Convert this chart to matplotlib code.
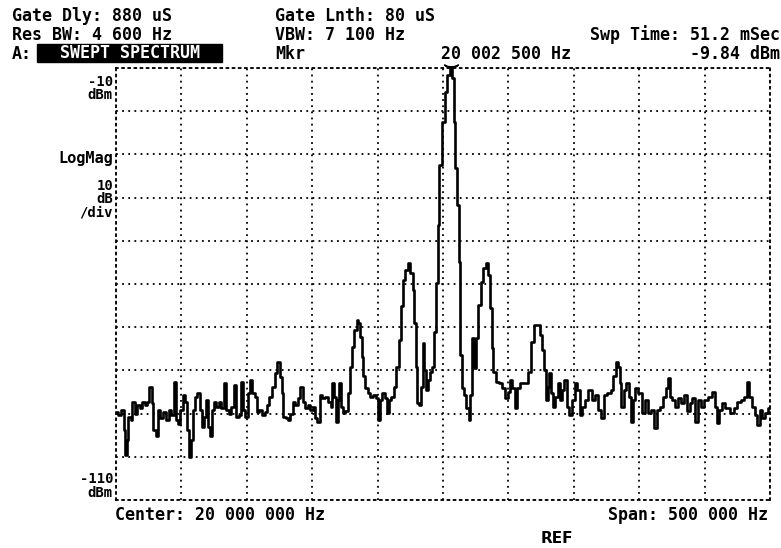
import matplotlib
matplotlib.use('Agg')
from matplotlib import pyplot as plt
from matplotlib.patches import Rectangle

# trace: offset from the 20 MHz centre (kHz), level (dBm)
freq_khz = [
    -249.5, -246.9, -244.9, -243.4, -242.4, -241.1, -239.8, -238.0, -236.8, -234.7,
    -232.9, -230.4, -229.1, -227.1, -225.3, -223.5, -222.2, -220.7, -218.9, -217.1,
    -215.1, -212.5, -210.8, -208.7, -206.7, -204.9, -203.6, -201.6, -199.8, -198.0,
    -196.5, -195.2, -193.4, -191.9, -190.4, -188.8, -187.1, -185.2, -183.7, -182.0,
    -180.2, -178.7, -177.6, -176.1, -174.3, -172.5, -170.5, -168.4, -166.7, -164.9,
    -162.8, -160.8, -159.0, -157.2, -155.2, -153.9, -152.1, -150.1, -148.3, -146.8,
    -145.0, -143.2, -141.2, -139.4, -137.4, -135.3, -133.6, -131.7, -129.7, -127.9,
    -125.9, -124.1, -122.6, -121.3, -119.5, -117.5, -115.7, -113.9, -111.9, -109.8,
    -108.1, -106.3, -104.2, -102.4, -100.4, -98.6, -96.6, -95.3, -93.5, -91.5,
    -88.9, -86.4,
    -85.6, -83.8, -82.6, -81.3, -80.0, -78.7, -77.5, -75.7, -73.6, -71.6,
    -70.3, -68.6, -66.8, -65.3, -64.0, -62.7, -61.4, -60.2, -58.4, -56.4,
    -54.5, -52.5, -50.7, -49.2, -47.7, -45.6, -43.8, -42.0, -40.5, -38.5,
    -36.5, -34.7, -32.9, -31.6, -29.8, -27.8, -25.8, -23.9, -22.7, -21.4,
    -20.4, -19.1, -17.6, -16.3, -15.0, -13.8, -12.5, -10.7, -8.7, -7.4,
    -6.1, -4.8, -3.6, -1.8, 0.3, 2.3, 4.3, 5.8, 7.4, 8.7,
    9.9, 11.7, 12.8, 13.5, 15.1, 17.0, 18.9, 20.1, 21.6, 23.2,
    24.5, 26.2, 27.8, 29.6, 31.6, 33.9, 35.4, 36.7, 38.0, 39.2,
    41.5, 44.1, 46.6, 48.7, 50.2, 51.8, 53.8, 55.8, 57.6, 60.2,
    63.5, 66.0, 68.6, 70.6,
    72.9, 74.9, 76.7, 78.0, 79.3, 80.8, 81.8, 83.3, 85.1, 86.9,
    88.5, 90.2, 92.0, 93.5, 95.4, 97.6, 99.7, 101.5, 103.5, 105.3,
    107.3, 109.9, 112.4, 114.9, 117.5, 120.0, 122.3, 124.4, 126.9, 129.4,
    131.3, 132.8, 134.3, 135.6, 137.1, 138.9, 140.9, 142.9, 144.3, 146.0,
    148.1, 150.6, 153.2, 155.2, 157.5, 160.1, 162.4, 164.4, 166.7, 169.3,
    171.6, 172.6, 174.1, 176.1, 178.7, 181.2, 183.3, 185.3, 187.6, 189.6,
    191.7, 194.0, 196.0, 198.5, 201.1, 204.1, 206.7, 208.5, 209.7, 211.8,
    214.3, 217.4, 220.7, 223.8, 226.5, 229.1, 231.4, 233.4, 235.2, 237.2,
    239.3, 241.1, 242.9, 244.9, 247.0, 249.5,
]
level_dbm = [
    -89.6, -90.3, -89.2, -93.8, -99.6, -96.1, -90.7, -91.5, -87.2, -90.0,
    -88.0, -88.8, -87.2, -88.0, -87.2, -83.8, -87.6, -93.8, -95.3, -89.2,
    -91.1, -89.6, -91.5, -89.2, -90.3, -82.6, -91.5, -92.3, -89.2, -85.7,
    -87.2, -93.8, -100.0, -96.1, -89.2, -86.1, -85.3, -89.2, -93.0, -90.7,
    -86.9, -93.0, -95.3, -89.2, -87.2, -88.4, -87.2, -88.8, -83.0, -89.2,
    -90.0, -88.4, -83.4, -90.7, -90.3, -82.6, -89.2, -90.7, -85.3, -82.2,
    -85.3, -86.1, -89.6, -89.2, -90.3, -89.6, -88.0, -86.1, -83.8, -80.7,
    -78.0, -81.5, -85.3, -90.7, -91.1, -91.5, -90.0, -87.2, -88.0, -86.5,
    -83.8, -87.2, -88.8, -88.0, -89.2, -88.4, -91.1, -91.9, -85.7, -86.5,
    -86.1, -87.2,
    -88.4, -83.0, -86.1, -91.9, -86.9, -83.0, -88.4, -89.9, -89.5, -85.3,
    -79.1, -74.5, -70.6, -68.3, -69.1, -72.2, -76.8, -81.4, -84.1, -85.3,
    -86.1, -85.7, -86.5, -91.5, -86.9, -85.3, -86.5, -89.9, -86.9, -86.1,
    -83.8, -79.1, -73.0, -65.2, -59.1, -56.8, -55.2, -57.5, -61.4, -69.1,
    -79.1, -87.6, -88.0, -83.8, -73.7, -79.9, -84.5, -82.2, -80.3, -79.1,
    -71.0, -59.8, -46.3, -32.5, -22.4, -15.5, -11.6, -9.84, -12.4, -22.4,
    -33.2, -41.7, -54.8, -76.4, -84.1, -85.7, -88.8, -91.5, -85.7, -72.6,
    -79.5, -72.6, -64.9, -59.5, -56.4, -55.2, -57.9, -65.6, -74.9, -80.3,
    -82.6, -83.0, -84.1, -86.5, -84.9, -82.2, -84.1, -88.8, -84.1, -83.0,
    -83.0, -80.3, -73.4, -69.5,
    -69.5, -71.8, -75.3, -79.9, -86.8, -83.8, -80.7, -85.3, -88.4, -86.1,
    -83.0, -86.8, -84.5, -82.2, -88.4, -90.3, -86.8, -83.0, -84.5, -90.3,
    -88.4, -86.8, -84.5, -86.8, -85.7, -89.2, -91.1, -85.7, -85.3, -84.5,
    -81.4, -78.0, -79.1, -83.0, -88.4, -84.5, -83.0, -86.1, -91.9, -86.8,
    -84.1, -85.3, -89.9, -86.8, -89.9, -89.2, -93.4, -89.2, -88.4, -86.1,
    -84.1, -81.8, -86.1, -86.8, -88.4, -86.5, -87.6, -85.7, -89.5, -87.6,
    -86.5, -91.9, -86.8, -88.4, -86.8, -86.1, -84.9, -88.4, -92.2, -89.2,
    -87.6, -88.8, -89.9, -88.8, -87.2, -86.8, -86.1, -82.6, -86.1, -88.4,
    -90.3, -92.6, -89.2, -91.1, -89.9, -88.8,
]

ref_top = -10       # dBm
ref_bottom = -110   # dBm
span_khz = 500
mkr_dbm = -9.84

W, H = 781, 548
fig = plt.figure(figsize=(W / 100, H / 100), dpi=100)
ax = fig.add_axes([116 / W, 1 - 500 / H, 654 / W, 432 / H])

ax.plot(freq_khz, level_dbm, color='black', linewidth=1.9, drawstyle='steps-mid',
        clip_on=False)

# marker sits on the highest point of the trace
i_pk = level_dbm.index(max(level_dbm))
ax.plot(freq_khz[i_pk], mkr_dbm + 0.3, marker=r'$\smile$', color='black',
        markersize=10, clip_on=False)

ax.set_xlim(-span_khz / 2, span_khz / 2)
ax.set_ylim(ref_bottom, ref_top)
ax.set_xticks(range(-250, 251, 50))
ax.set_yticks(range(ref_bottom, ref_top + 1, 10))
dots = (0, (1, 2.4))
ax.grid(True, color='black', linestyle=dots, linewidth=1.3)
ax.tick_params(length=0, labelbottom=False, labelleft=False)
for sp in ax.spines.values():
    sp.set_linestyle(dots)
    sp.set_linewidth(1.3)


def txt(x, y, s, ha='left', size=12, color='black', family='DejaVu Sans Mono'):
    fig.text(x / W, 1 - y / H, s, ha=ha, va='baseline', fontsize=size,
             fontweight='bold', color=color, family=family)


# header
txt(12, 21, 'Gate Dly: 880 uS')
txt(275, 21, 'Gate Lnth: 80 uS')
txt(12, 40, 'Res BW: 4 600 Hz')
txt(275, 40, 'VBW: 7 100 Hz')
txt(780, 40, 'Swp Time: 51.2 mSec', ha='right')
txt(12, 59, 'A:')
fig.patches.append(Rectangle((37 / W, 1 - 62 / H), 185 / W, 18 / H,
                             transform=fig.transFigure, color='black'))
txt(130, 58, 'SWEPT SPECTRUM', ha='center', color='white')
txt(275, 59, 'Mkr')
txt(506, 59, '20 002 500 Hz', ha='center')
txt(780, 59, f'{mkr_dbm:.2f} dBm', ha='right')

# left scale labels
txt(113, 86, f'{ref_top}', ha='right', size=10)
txt(113, 99, 'dBm', ha='right', size=10)
txt(113, 163, 'LogMag', ha='right', size=11)
txt(113, 190, '10', ha='right', size=10)
txt(113, 203, 'dB', ha='right', size=10)
txt(113, 216, '/div', ha='right', size=10)
txt(113, 483, f'{ref_bottom}', ha='right', size=10)
txt(113, 497, 'dBm', ha='right', size=10)

# footer
txt(115, 520, 'Center: 20 000 000 Hz')
txt(768, 520, 'Span: 500 000 Hz', ha='right')
txt(557, 543, 'REF', ha='center', size=11, family='DejaVu Sans')

fig.savefig('out.png', dpi=100, facecolor='white')
